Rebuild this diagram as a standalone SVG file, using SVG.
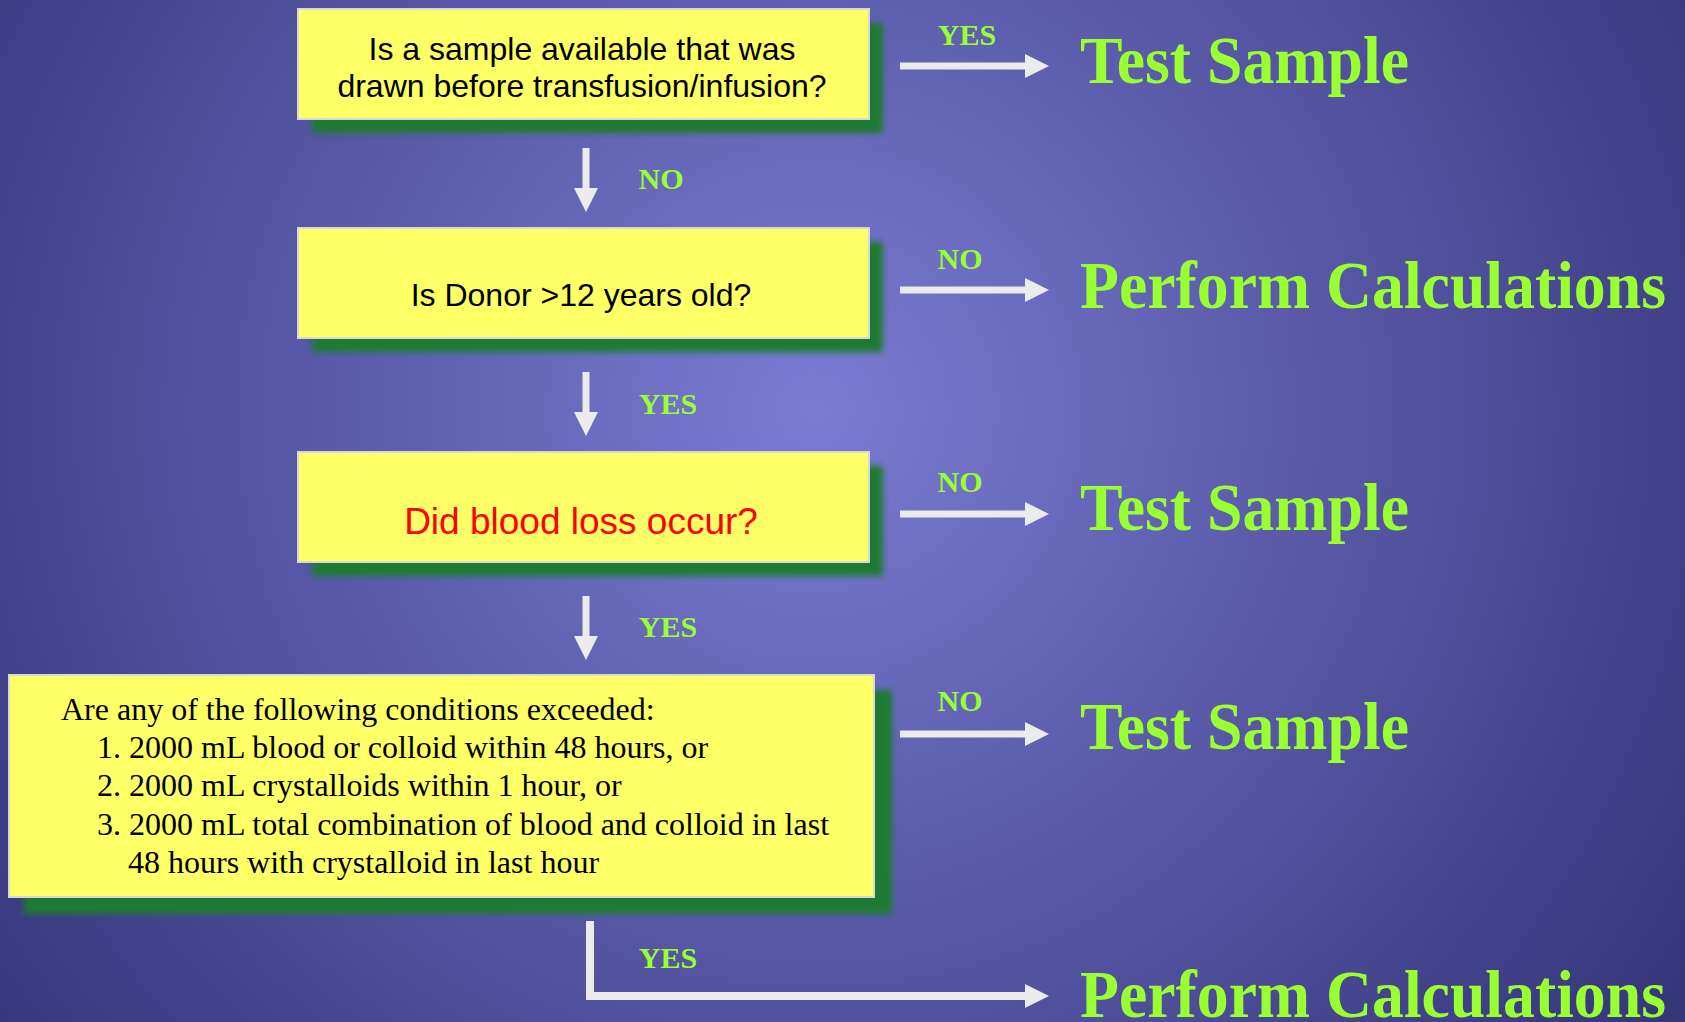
<svg xmlns="http://www.w3.org/2000/svg" width="1685" height="1022" viewBox="0 0 1685 1022">
<defs>
<radialGradient id="bg" gradientUnits="userSpaceOnUse" cx="815" cy="410" r="1050">
<stop offset="0" stop-color="#7B7BD4"/>
<stop offset="0.45" stop-color="#5B5BAA"/>
<stop offset="1" stop-color="#35357A"/>
</radialGradient>
<filter id="blur" x="-10%" y="-20%" width="120%" height="140%">
<feGaussianBlur stdDeviation="3"/>
</filter>
<marker id="ah" markerUnits="userSpaceOnUse" markerWidth="24" markerHeight="24" refX="0" refY="12" orient="auto">
<path d="M0,0 L24,12 L0,24 Z" fill="#EBEBEB"/>
</marker>
</defs>
<style>
.shadow{fill:#1B7A32;filter:url(#blur);}
.box{fill:#FFFF66;stroke:#D8D8D8;stroke-width:2;}
.sans{font-family:"Liberation Sans",Arial,sans-serif;fill:#000;text-anchor:middle;}
.serif{font-family:"Liberation Serif","Times New Roman",serif;fill:#000;font-size:32px;}
.lbl{font-family:"Liberation Serif","Times New Roman",serif;font-weight:bold;fill:#99FF33;font-size:30px;}
.big{font-family:"Liberation Serif","Times New Roman",serif;font-weight:bold;fill:#99FF33;font-size:68px;}
.big2{font-family:"Liberation Serif","Times New Roman",serif;font-weight:bold;fill:#99FF33;font-size:64px;}
.conn{stroke:#EBEBEB;stroke-width:7;fill:none;}
</style>
<rect x="0" y="0" width="1685" height="1022" fill="url(#bg)"/>

<g id="node1">
<rect class="shadow" x="312" y="23" width="571" height="110"/>
<rect class="box" x="298" y="9" width="571" height="110"/>
<text class="sans" font-size="32" x="582" y="60">Is a sample available that was</text>
<text class="sans" font-size="32" x="582" y="97">drawn before transfusion/infusion?</text>
</g>

<g id="node2">
<rect class="shadow" x="312" y="242" width="571" height="110"/>
<rect class="box" x="298" y="228" width="571" height="110"/>
<text class="sans" font-size="32" x="581" y="306">Is Donor &gt;12 years old?</text>
</g>

<g id="node3">
<rect class="shadow" x="312" y="466" width="571" height="110"/>
<rect class="box" x="298" y="452" width="571" height="110"/>
<text class="sans" font-size="37" x="581" y="534" style="fill:#FF0000">Did blood loss occur?</text>
</g>

<g id="node4">
<rect class="shadow" x="24" y="690" width="868" height="224"/>
<rect class="box" x="9" y="675" width="865" height="222"/>
<text class="serif" x="61" y="720">Are any of the following conditions exceeded:</text>
<text class="serif" x="97" y="758">1. 2000 mL blood or colloid within 48 hours, or</text>
<text class="serif" x="97" y="796">2. 2000 mL crystalloids within 1 hour, or</text>
<text class="serif" x="97" y="835">3. 2000 mL total combination of blood and colloid in last</text>
<text class="serif" x="128" y="873">48 hours with crystalloid in last hour</text>
</g>

<g id="out1"><text class="big" x="1080" y="83" textLength="329" lengthAdjust="spacingAndGlyphs">Test Sample</text></g>
<g id="out2"><text class="big2" transform="translate(1080,308) scale(1,1.06)" x="0" y="0" textLength="586" lengthAdjust="spacingAndGlyphs">Perform Calculations</text></g>
<g id="out3"><text class="big" x="1080" y="530" textLength="329" lengthAdjust="spacingAndGlyphs">Test Sample</text></g>
<g id="out4"><text class="big" x="1080" y="749" textLength="329" lengthAdjust="spacingAndGlyphs">Test Sample</text></g>
<g id="out5"><text class="big2" transform="translate(1080,1017) scale(1,1.06)" x="0" y="0" textLength="586" lengthAdjust="spacingAndGlyphs">Perform Calculations</text></g>

<g id="connectors">
<line class="conn" x1="900" y1="66" x2="1025" y2="66" marker-end="url(#ah)"/>
<line class="conn" x1="900" y1="290" x2="1025" y2="290" marker-end="url(#ah)"/>
<line class="conn" x1="900" y1="514" x2="1025" y2="514" marker-end="url(#ah)"/>
<line class="conn" x1="900" y1="734" x2="1025" y2="734" marker-end="url(#ah)"/>
<line class="conn" x1="586" y1="148" x2="586" y2="188" marker-end="url(#ah)"/>
<line class="conn" x1="586" y1="372" x2="586" y2="412" marker-end="url(#ah)"/>
<line class="conn" x1="586" y1="596" x2="586" y2="636" marker-end="url(#ah)"/>
<path class="conn" style="stroke-width:8" d="M590,921 L590,996 L1025,996" marker-end="url(#ah)"/>
<text class="lbl" x="967" y="45" text-anchor="middle">YES</text>
<text class="lbl" x="960" y="269" text-anchor="middle">NO</text>
<text class="lbl" x="960" y="492" text-anchor="middle">NO</text>
<text class="lbl" x="960" y="711" text-anchor="middle">NO</text>
<text class="lbl" x="661" y="189" text-anchor="middle">NO</text>
<text class="lbl" x="668" y="414" text-anchor="middle">YES</text>
<text class="lbl" x="668" y="637" text-anchor="middle">YES</text>
<text class="lbl" x="668" y="968" text-anchor="middle">YES</text>
</g>
</svg>
